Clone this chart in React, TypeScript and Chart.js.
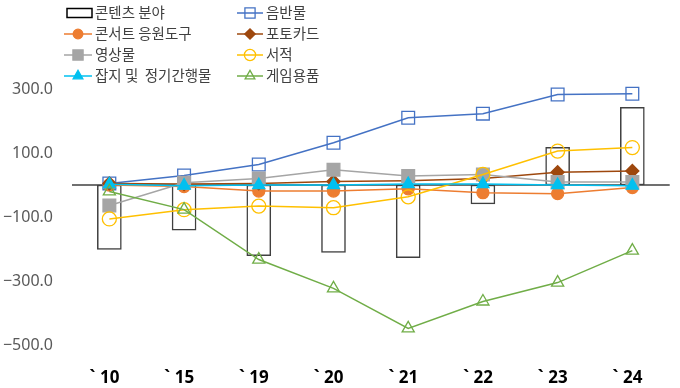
import React, { useEffect, useRef } from 'react';
import { Chart, registerables } from 'chart.js';
import { drawPoint } from 'chart.js/helpers';

Chart.register(...registerables);

const categories = ['` 10', '` 15', '` 19', '` 20', '` 21', '` 22', '` 23', '` 24'];
const contentField = [-201, -141, -221, -211, -227, -59, 118, 243];
const albums = [5, 30, 64, 132, 210, 223, 283, 285];
const concertGoods = [0, -5, -19, -19, -12, -24, -27, -8];
const photoCards = [5, 3, 5, 11, 13, 20, 40, 44];
const videos = [-64, 7, 20, 48, 28, 33, 9, 9];
const books = [-106, -77, -66, -71, -37, 33, 106, 117];
const magazines = [2, -2, 0, 0, 3, 3, 0, -2];
const gameGoods = [-20, -77, -233, -323, -448, -364, -305, -205];
const yTicks = [-500, -300, -100, 100, 300];

const seriesNames = ['콘텐츠 분야', '음반물', '콘서트 응원도구', '포토카드', '영상물', '서적', '잡지 및  정기간행물', '게임용품'];

const T = 'rgba(0,0,0,0)';

const zeroLinePlugin = {
  id: 'zeroLine',
  beforeDatasetsDraw(chart: any) {
    const { ctx, chartArea, scales } = chart;
    const y = scales.y.getPixelForValue(0);
    ctx.save();
    ctx.strokeStyle = '#404040';
    ctx.lineWidth = 1.5;
    ctx.beginPath();
    ctx.moveTo(chartArea.left, y);
    ctx.lineTo(chartArea.right, y);
    ctx.stroke();
    ctx.restore();
  },
};

const legendPlugin = {
  id: 'twoColLegend',
  afterDraw(chart: any) {
    const { ctx } = chart;
    const dss = chart.data.datasets;
    ctx.save();
    dss.forEach((ds: any, i: number) => {
      const col = i % 2;
      const row = Math.floor(i / 2);
      const x0 = col ? 237 : 64;
      const x1 = col ? 263 : 92;
      const tx = col ? 266 : 95;
      const y = 13 + row * 21;
      if (ds.type === 'bar') {
        ctx.fillStyle = '#ffffff';
        ctx.strokeStyle = '#000000';
        ctx.lineWidth = 1.5;
        ctx.fillRect(67, y - 4.5, 25, 9);
        ctx.strokeRect(67, y - 4.5, 25, 9);
      } else {
        ctx.strokeStyle = ds.borderColor;
        ctx.lineWidth = 1.5;
        ctx.beginPath();
        ctx.moveTo(x0, y);
        ctx.lineTo(x1, y);
        ctx.stroke();
        ctx.fillStyle = ds.pointBackgroundColor;
        ctx.strokeStyle = ds.pointBorderColor;
        ctx.lineWidth = 1.3;
        drawPoint(ctx, { pointStyle: ds.pointStyle, radius: ds.pointRadius * 0.8, borderWidth: 1.3, rotation: 0 }, (x0 + x1) / 2, y);
      }
      ctx.fillStyle = '#404040';
      ctx.font = "14.5px 'Noto Sans CJK KR', 'Noto Sans', sans-serif";
      ctx.textBaseline = 'middle';
      ctx.textAlign = 'left';
      ctx.fillText(ds.label, tx, y - 0.5);
    });
    ctx.restore();
  },
};

function lineDs(label: string, data: number[], color: string, style: string, radius: number, filled: boolean, order: number) {
  return {
    type: 'line' as const,
    label,
    data,
    borderColor: color,
    backgroundColor: color,
    borderWidth: 1.5,
    pointStyle: style,
    pointRadius: radius,
    pointBorderWidth: 1.3,
    pointBorderColor: color,
    pointBackgroundColor: filled ? color : T,
    fill: false,
    tension: 0,
    order,
    clip: false as any,
  };
}

export default function App() {
  const ref = useRef<HTMLCanvasElement>(null);
  useEffect(() => {
    if (!ref.current) return;
    const chart = new Chart(ref.current, {
      type: 'bar',
      data: {
        labels: categories,
        datasets: [
          {
            type: 'bar',
            label: seriesNames[0],
            data: contentField,
            backgroundColor: '#ffffff',
            borderColor: '#404040',
            borderWidth: 1.5,
            borderSkipped: false,
            barThickness: 24,
            order: 100,
          } as any,
          lineDs(seriesNames[1], albums, '#4472C4', 'rect', 9, false, 8),
          lineDs(seriesNames[2], concertGoods, '#ED7D31', 'circle', 6, true, 7),
          lineDs(seriesNames[3], photoCards, '#9E480E', 'rectRot', 6.5, true, 6),
          lineDs(seriesNames[4], videos, '#A5A5A5', 'rect', 9, true, 5),
          lineDs(seriesNames[5], books, '#FFC000', 'circle', 7, false, 4),
          lineDs(seriesNames[6], magazines, '#00C0F0', 'triangle', 7, true, 3),
          lineDs(seriesNames[7], gameGoods, '#70AD47', 'triangle', 7, false, 2),
        ],
      },
      options: {
        responsive: false,
        animation: false,
        layout: { padding: { top: 89, right: 3, left: 0, bottom: 0 } },
        plugins: { legend: { display: false }, tooltip: { enabled: false } },
        scales: {
          x: {
            type: 'category',
            offset: true,
            grid: { display: false, drawTicks: false },
            border: { display: false },
            afterFit: (s: any) => {
              s.height = 43;
            },
            ticks: {
              color: '#000000',
              padding: 23,
              maxRotation: 0,
              autoSkip: false,
              labelOffset: -5,
              font: { family: "'Noto Sans', 'Liberation Sans', sans-serif", size: 17, weight: 'bold condensed' },
            },
          },
          y: {
            min: -500,
            max: 300,
            grid: { display: false, drawTicks: false },
            border: { display: false },
            afterBuildTicks: (s: any) => {
              s.ticks = yTicks.map((v) => ({ value: v }));
            },
            afterFit: (s: any) => {
              s.width = 72;
            },
            ticks: {
              color: '#595959',
              padding: 19,
              font: { family: "'Noto Sans', sans-serif", size: 16 },
              callback: (v: any) => (v < 0 ? '\u2212' : '') + Math.abs(Number(v)).toFixed(1),
            },
          },
        },
      } as any,
      plugins: [zeroLinePlugin, legendPlugin],
    });
    return () => chart.destroy();
  }, []);
  return (
    <div style={{ position: 'absolute', left: 0, top: 0, width: 680, height: 388, background: '#fff' }}>
      <canvas ref={ref} width={680} height={388} />
    </div>
  );
}
